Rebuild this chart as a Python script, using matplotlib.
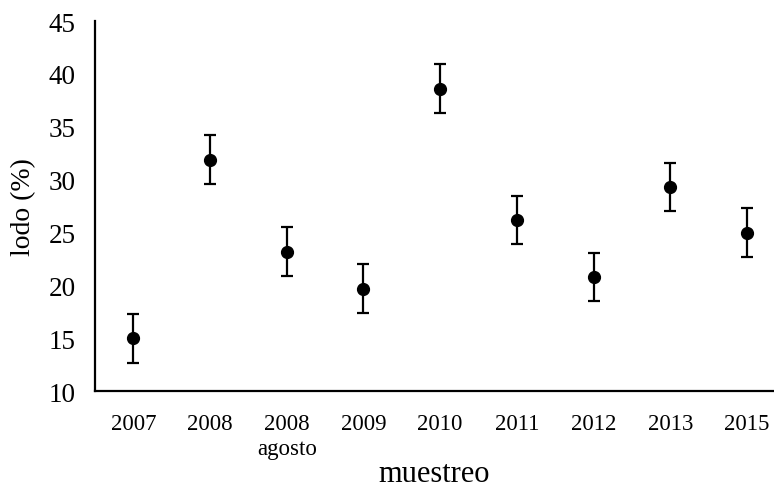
import matplotlib
matplotlib.use("Agg")
import matplotlib.pyplot as plt

categories = ["2007", "2008", "2008\nagosto", "2009", "2010", "2011", "2012", "2013", "2015"]
values = [15.0, 31.9, 23.2, 19.7, 38.6, 26.2, 20.8, 29.3, 25.0]
errors = [2.3, 2.3, 2.3, 2.3, 2.3, 2.3, 2.3, 2.3, 2.3]
yticks = [10, 15, 20, 25, 30, 35, 40, 45]

plt.rcParams['font.family'] = ['Liberation Serif', 'DejaVu Serif']

fig = plt.figure(figsize=(7.74, 4.89), dpi=100)
ax = fig.add_axes([0.1227, 0.198, 0.877, 0.757])
x = list(range(len(categories)))
ax.errorbar(x, values, yerr=errors, fmt='o', color='black', markersize=8.5,
            ecolor='black', elinewidth=1.6, capsize=4, capthick=1.6)
ax.set_ylim(10, 45)
ax.set_xlim(-0.5, 8.35)
ax.set_yticks(yticks)
ax.set_xticks(x)
ax.set_xticklabels(categories, fontsize=16.5, linespacing=1.25, va='top')
ax.tick_params(axis='y', labelsize=19.5, length=0, pad=14)
ax.tick_params(axis='x', length=0, pad=16)
for s in ['top', 'right']:
    ax.spines[s].set_visible(False)
for s in ['left', 'bottom']:
    ax.spines[s].set_linewidth(1.6)
ax.set_ylabel("lodo (%)", fontsize=20, labelpad=9)
ax.set_xlabel("muestreo", fontsize=22, labelpad=0)
fig.savefig("out.png", dpi=100)
